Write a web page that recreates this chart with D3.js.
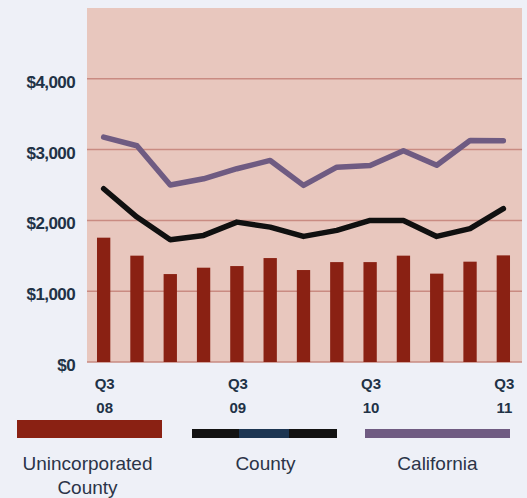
<!DOCTYPE html>
<html><head><meta charset="utf-8">
<script src="https://cdn.jsdelivr.net/npm/d3@7"></script>
<style>html,body{margin:0;padding:0;background:#eef0f7;}svg{display:block;}</style>
</head><body>
<script>
const categories = ["Q3 08","Q4 08","Q1 09","Q2 09","Q3 09","Q4 09","Q1 10","Q2 10","Q3 10","Q4 10","Q1 11","Q2 11","Q3 11"];
const unincorporated = [1756,1502,1242,1332,1355,1468,1299,1411,1411,1502,1248,1417,1506];
const county = [2447,2047,1728,1788,1976,1905,1774,1859,2000,2000,1774,1883,2165];
const california = [3176,3054,2500,2588,2730,2847,2494,2752,2776,2983,2780,3129,3125];
const yTicks = [0,1000,2000,3000,4000];
const xTickLabels = {"Q3 08":["Q3","08"],"Q3 09":["Q3","09"],"Q3 10":["Q3","10"],"Q3 11":["Q3","11"]};
const legendItems = ["Unincorporated County","County","California"];

const W=527,H=498;
const svg=d3.select("body").append("svg").attr("width",W).attr("height",H);
svg.append("rect").attr("width",W).attr("height",H).attr("fill","#eef0f7");
const pLeft=87,pRight=520,pTop=8,pBottom=362;
const x=d3.scaleBand().domain(categories).range([pLeft,pRight]).paddingInner(0.6).paddingOuter(0.3);
const y=d3.scaleLinear().domain([0,5000]).range([pBottom,pTop]);

svg.append("rect").attr("x",pLeft).attr("y",pTop).attr("width",522-pLeft).attr("height",pBottom-pTop).attr("fill","#e8c7be");

// gridlines
svg.append("g").selectAll("line").data(yTicks).join("line")
 .attr("x1",pLeft).attr("x2",522).attr("y1",d=>y(d)).attr("y2",d=>y(d))
 .attr("stroke","#c98b82").attr("stroke-width",1.5);

// y axis labels
const yAxis=d3.axisLeft(y).tickValues(yTicks).tickSize(0).tickPadding(12).tickFormat(d=>"$"+d3.format(",")(d));
const ya=svg.append("g").attr("transform",`translate(${pLeft},3)`).call(yAxis);
ya.select(".domain").remove();
ya.selectAll("text").attr("font-family","Liberation Sans, Arial, sans-serif").attr("font-size",17).attr("font-weight","bold").attr("fill","#213246").attr("letter-spacing","-0.6");

// bars
svg.append("g").selectAll("rect").data(unincorporated).join("rect")
 .attr("x",(d,i)=>x(categories[i])).attr("width",x.bandwidth())
 .attr("y",d=>y(d)).attr("height",d=>y(0)-y(d)).attr("fill","#8a2113");

const cx=(d,i)=>x(categories[i])+x.bandwidth()/2;
const line=d3.line().x(cx).y(d=>y(d));
svg.append("path").datum(california).attr("d",line).attr("fill","none").attr("stroke","#6f5b82").attr("stroke-width",5.5).attr("stroke-linejoin","round").attr("stroke-linecap","round");
svg.append("path").datum(county).attr("d",line).attr("fill","none").attr("stroke","#101010").attr("stroke-width",5.5).attr("stroke-linejoin","round").attr("stroke-linecap","round");

// x labels
const xa=svg.append("g");
categories.forEach(c=>{
  if(!xTickLabels[c])return;
  const t=xa.append("text").attr("x",x(c)+x.bandwidth()/2).attr("text-anchor","middle")
   .attr("font-family","Liberation Sans, Arial, sans-serif").attr("font-size",15).attr("font-weight","bold").attr("fill","#213246");
  t.append("tspan").attr("x",x(c)+x.bandwidth()/2+1).attr("y",389).text(xTickLabels[c][0]);
  t.append("tspan").attr("x",x(c)+x.bandwidth()/2+1).attr("y",413).text(xTickLabels[c][1]);
});

// legend
const lg=svg.append("g");
const lx=[17,192,365], lw=145;
lg.append("rect").attr("x",lx[0]).attr("y",420).attr("width",lw).attr("height",18).attr("fill","#8a2113");
lg.append("rect").attr("x",lx[1]).attr("y",429).attr("width",lw).attr("height",9).attr("fill","#121212");
lg.append("rect").attr("x",lx[1]+47).attr("y",429).attr("width",50).attr("height",9).attr("fill","#1c3552");
lg.append("rect").attr("x",lx[2]).attr("y",429).attr("width",lw).attr("height",9).attr("fill","#6f5b82");
const tf="Liberation Sans, Arial, sans-serif";
const t0=lg.append("text").attr("text-anchor","middle").attr("font-family",tf).attr("font-size",19).attr("fill","#2b3448");
t0.append("tspan").attr("x",lx[0]+lw/2-2).attr("y",470).text("Unincorporated");
t0.append("tspan").attr("x",lx[0]+lw/2-2).attr("y",494).text("County");
lg.append("text").attr("x",lx[1]+lw/2+1).attr("y",470).attr("text-anchor","middle").attr("font-family",tf).attr("font-size",19).attr("fill","#2b3448").text(legendItems[1]);
lg.append("text").attr("x",lx[2]+lw/2).attr("y",470).attr("text-anchor","middle").attr("font-family",tf).attr("font-size",19).attr("fill","#2b3448").text(legendItems[2]);
</script>
</body></html>
